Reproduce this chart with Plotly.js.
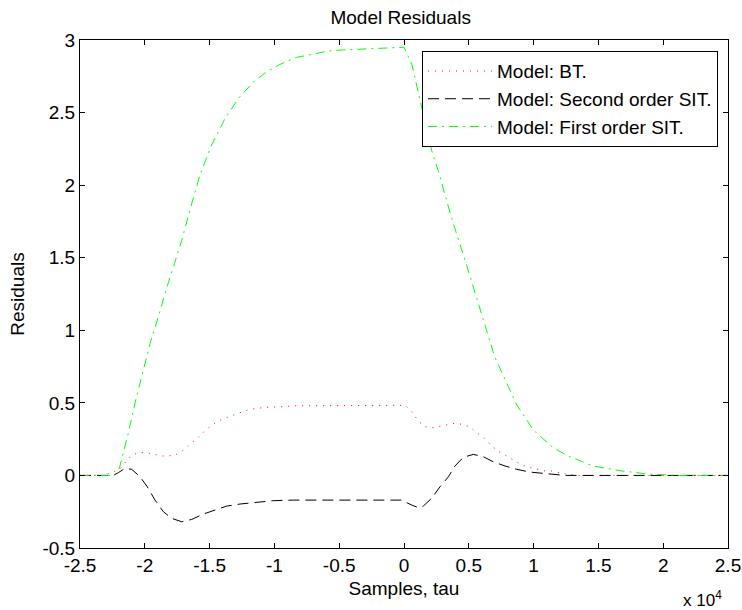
<!DOCTYPE html>
<html>
<head>
<meta charset="utf-8">
<script src="https://cdn.plot.ly/plotly-3.0.1.min.js"></script>
<style>html,body{margin:0;padding:0;background:#fff;}#chart{width:742px;height:610px;}</style>
</head>
<body>
<div id="chart"></div>
<script>
// x values in units of 1e4 samples (as shown on the axis with "x 10^4")
var btX = [-2.5, -2.318, -2.196, -2.153, -2.109, -2.050, -1.991, -1.934, -1.875, -1.819, -1.762, -1.703, -1.652, -1.592, -1.535, -1.476, -1.420, -1.363, -1.304, -1.245, -1.188, -1.132, -1.073, -0.957, -0.841, 0.01, 0.071, 0.106, 0.163, 0.219, 0.278, 0.338, 0.393, 0.450, 0.505, 0.561, 0.620, 0.677, 0.733, 0.793, 0.851, 0.909, 0.964, 1.024, 1.081, 1.139, 1.250, 1.347, 2.5];
var btY = [0, 0, 0.04, 0.083, 0.134, 0.157, 0.157, 0.147, 0.134, 0.134, 0.143, 0.173, 0.216, 0.256, 0.308, 0.352, 0.38, 0.40, 0.421, 0.439, 0.455, 0.462, 0.469, 0.473, 0.48, 0.483, 0.428, 0.377, 0.336, 0.329, 0.340, 0.352, 0.359, 0.352, 0.336, 0.294, 0.256, 0.203, 0.163, 0.134, 0.101, 0.072, 0.056, 0.042, 0.032, 0.03, 0.01, 0, 0];

var soX = [-2.5, -2.243, -2.204, -2.153, -2.101, -2.037, -1.981, -1.921, -1.857, -1.792, -1.715, -1.638, -1.548, -1.458, -1.368, -1.265, -1.163, -1.009, -0.854, -0.02, 0.059, 0.111, 0.149, 0.213, 0.278, 0.343, 0.393, 0.458, 0.535, 0.612, 0.689, 0.779, 0.870, 0.972, 1.101, 1.246, 2.5];
var soY = [0, 0, 0.019, 0.049, 0.042, -0.009, -0.078, -0.17, -0.25, -0.296, -0.319, -0.303, -0.266, -0.238, -0.211, -0.197, -0.188, -0.174, -0.17, -0.17, -0.204, -0.222, -0.211, -0.158, -0.078, -0.009, 0.065, 0.125, 0.145, 0.129, 0.094, 0.065, 0.042, 0.023, 0.012, 0, 0];

var foX = [-2.5, -2.237, -2.196, -2.166, -2.125, -2.075, -1.994, -1.959, -1.893, -1.832, -1.771, -1.715, -1.639, -1.574, -1.488, -1.381, -1.275, -1.164, -1.062, -0.961, -0.830, -0.728, -0.577, -0.465, -0.273, -0.121, 0, 0.061, 0.132, 0.213, 0.264, 0.365, 0.486, 0.588, 0.699, 0.780, 0.871, 0.998, 1.155, 1.281, 1.458, 1.671, 1.873, 2.126, 2.5];
var foY = [0, 0, 0.05, 0.15, 0.3, 0.5, 0.78, 0.91, 1.1, 1.29, 1.46, 1.62, 1.87, 2.07, 2.27, 2.46, 2.60, 2.71, 2.78, 2.83, 2.88, 2.90, 2.925, 2.932, 2.94, 2.945, 2.95, 2.83, 2.55, 2.24, 2.1, 1.78, 1.44, 1.14, 0.82, 0.66, 0.485, 0.313, 0.187, 0.129, 0.065, 0.032, 0.01, 0, 0];

var names = ['Model: BT.', 'Model: Second order SIT.', 'Model: First order SIT.'];
var xTicks = [-2.5, -2, -1.5, -1, -0.5, 0, 0.5, 1, 1.5, 2, 2.5];
var xTickText = ['-2.5', '-2', '-1.5', '-1', '-0.5', '0', '0.5', '1', '1.5', '2', '2.5'];
var yTicks = [-0.5, 0, 0.5, 1, 1.5, 2, 2.5, 3];
var yTickText = ['-0.5', '0', '0.5', '1', '1.5', '2', '2.5', '3'];

var FONT = 'Liberation Sans, Arial, sans-serif';
var FS = 19;

var traces = [
  {x: btX, y: btY, name: names[0], type: 'scatter', mode: 'lines',
   line: {color: '#ff0000', width: 1, dash: '1px,6px'}},
  {x: soX, y: soY, name: names[1], type: 'scatter', mode: 'lines',
   line: {color: '#000000', width: 1, dash: '11px,6px'}},
  {x: foX, y: foY, name: names[2], type: 'scatter', mode: 'lines',
   line: {color: '#00ff00', width: 1, dash: '9px,5px,2px,5px'}}
];

var axisCommon = {
  showgrid: false, zeroline: false, showline: true, linecolor: '#000', linewidth: 1,
  mirror: 'ticks', ticks: 'inside', ticklen: 5, tickcolor: '#000', tickwidth: 1,
  ticklabeloverflow: 'allow',
  tickfont: {family: FONT, size: FS, color: '#000'}
};

var layout = {
  width: 742, height: 610,
  margin: {l: 80, r: 14, t: 40, b: 62},
  paper_bgcolor: '#fff', plot_bgcolor: '#fff',
  font: {family: FONT, size: FS, color: '#000'},
  title: {text: 'Model Residuals', font: {family: FONT, size: FS, color: '#000'},
          x: 0.54, xanchor: 'center', y: 0.972, yanchor: 'middle'},
  xaxis: Object.assign({}, axisCommon, {
    range: [-2.5, 2.5], tickmode: 'array', tickvals: xTicks, ticktext: xTickText,
    title: {text: 'Samples, tau', font: {family: FONT, size: FS, color: '#000'}, standoff: 6}
  }),
  yaxis: Object.assign({}, axisCommon, {
    range: [-0.5, 3], tickmode: 'array', tickvals: yTicks, ticktext: yTickText,
    title: {text: 'Residuals', font: {family: FONT, size: FS, color: '#000'}, standoff: 12}
  }),
  showlegend: true,
  legend: {x: 0.9846, y: 0.978, xanchor: 'right', yanchor: 'top',
           bordercolor: '#000', borderwidth: 1, bgcolor: '#fff', itemwidth: 64,
           font: {family: FONT, size: FS, color: '#000'}, tracegroupgap: 0},
  annotations: [{text: 'x 10<sup>4</sup>', xref: 'paper', yref: 'paper', x: 0.961, y: -0.1,
                 xanchor: 'center', yanchor: 'middle', showarrow: false,
                 font: {family: FONT, size: 17, color: '#000'}}]
};

Plotly.newPlot('chart', traces, layout, {displayModeBar: false, staticPlot: true});
</script>
</body>
</html>
